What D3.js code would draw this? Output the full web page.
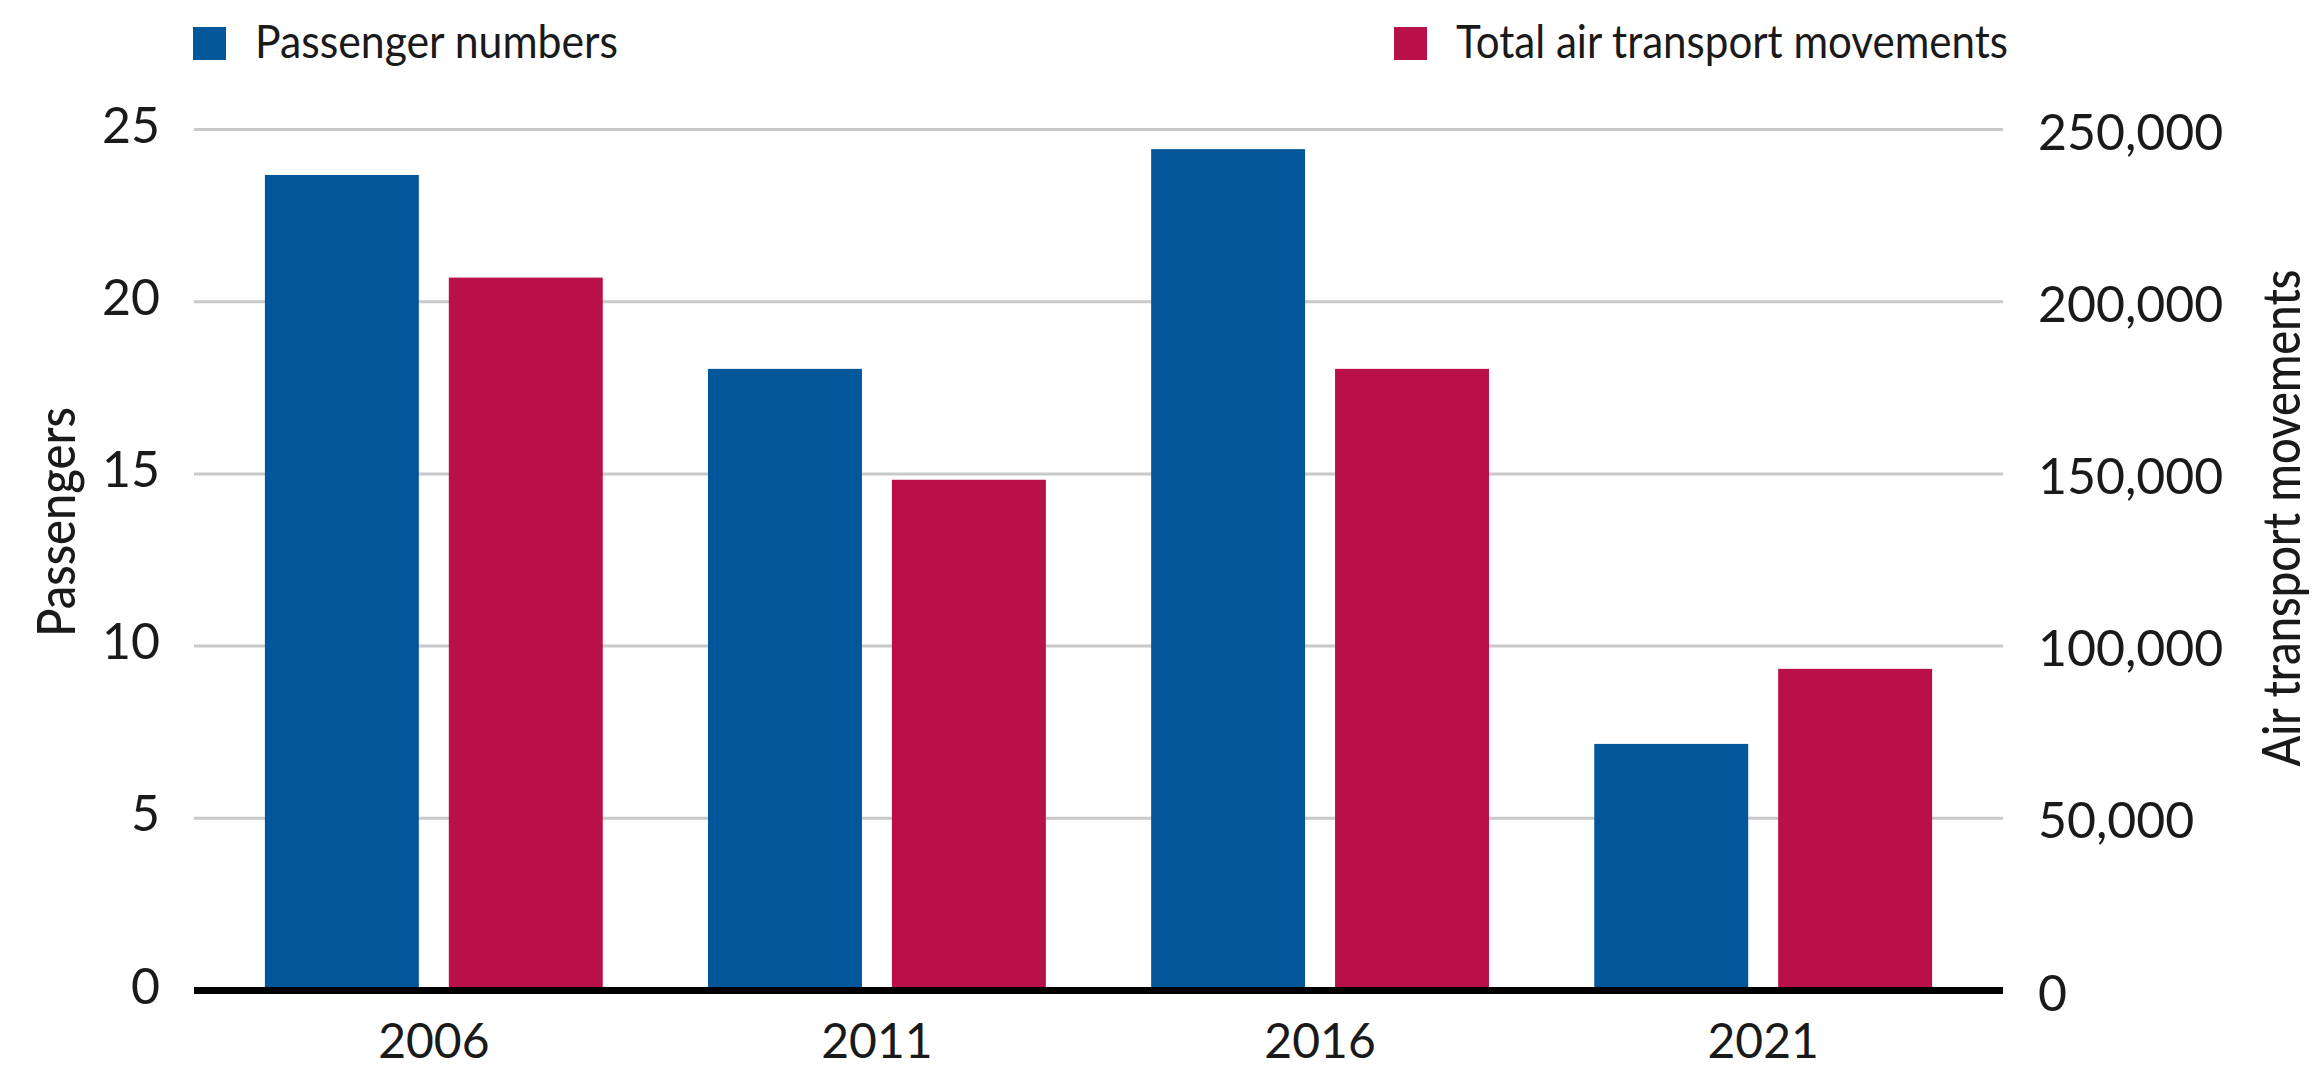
<!DOCTYPE html>
<html>
<head>
<meta charset="utf-8">
<script src="https://cdn.jsdelivr.net/npm/d3@7"></script>
<style>
  html, body { margin: 0; padding: 0; background: #ffffff; }
  svg { display: block; }
  text { font-family: Lato, "Open Sans", sans-serif; fill: #1a1a1a; }
</style>
</head>
<body>
<svg id="chart" width="2315" height="1070"></svg>
<script>
// ---- data ----
const years = ["2006", "2011", "2016", "2021"];
const passengers = [23.68, 18.05, 24.43, 7.16];          // millions
const movements = [207000, 148300, 180500, 93400];       // air transport movements
const leftTicks = [0, 5, 10, 15, 20, 25];
const rightTicks = [0, 50000, 100000, 150000, 200000, 250000];
const seriesNames = ["Passenger numbers", "Total air transport movements"];
const leftTitle = "Passengers";
const rightTitle = "Air transport movements";

// ---- layout ----
const W = 2315, H = 1070;
const plotL = 194, plotR = 2003, yTop = 129.5, yBot = 990.5;
const colors = ["#02579a", "#ba104a"];

const svg = d3.select("#chart");

const x0 = d3.scaleBand().domain(years).range([plotL, plotR])
  .paddingInner(0.2376).paddingOuter(0.16);
const x1 = d3.scaleBand().domain([0, 1]).range([0, x0.bandwidth()])
  .paddingInner(0.163).paddingOuter(0);
const yL = d3.scaleLinear().domain([0, 25]).range([yBot, yTop]);
const yR = d3.scaleLinear().domain([0, 250000]).range([yBot, yTop]);

// gridlines
svg.append("g").selectAll("line")
  .data(leftTicks.filter(d => d !== 0))
  .join("line")
  .attr("x1", plotL).attr("x2", plotR)
  .attr("y1", d => yL(d)).attr("y2", d => yL(d))
  .attr("stroke", "#c9c9c9").attr("stroke-width", 3);

// bars
const groups = svg.append("g").selectAll("g")
  .data(years.map((y, i) => ({ year: y, vals: [
    { s: 0, v: passengers[i], y: yL(passengers[i]) },
    { s: 1, v: movements[i], y: yR(movements[i]) }
  ]})))
  .join("g")
  .attr("transform", d => `translate(${x0(d.year)},0)`);

groups.selectAll("rect")
  .data(d => d.vals)
  .join("rect")
  .attr("x", d => x1(d.s))
  .attr("width", x1.bandwidth())
  .attr("y", d => d.y)
  .attr("height", d => yBot - d.y)
  .attr("fill", d => colors[d.s]);

// baseline
svg.append("line")
  .attr("x1", plotL).attr("x2", plotR)
  .attr("y1", yBot).attr("y2", yBot)
  .attr("stroke", "#000").attr("stroke-width", 7);

// left axis labels
svg.append("g").selectAll("text")
  .data(leftTicks).join("text")
  .attr("x", 160).attr("y", d => yL(d) + 13)
  .attr("text-anchor", "end")
  .attr("font-size", 50)
  .text(d => d);

// right axis labels
const fmt = d3.format(",");
svg.append("g").selectAll("text")
  .data(rightTicks).join("text")
  .attr("x", 2038).attr("y", d => yR(d) + 20)
  .attr("text-anchor", "start")
  .attr("font-size", 50)
  .text(d => fmt(d));

// x axis labels
svg.append("g").selectAll("text")
  .data(years).join("text")
  .attr("x", d => x0(d) + x0.bandwidth() / 2)
  .attr("y", 1058)
  .attr("text-anchor", "middle")
  .attr("font-size", 48)
  .text(d => d);

// axis titles
svg.append("text")
  .attr("transform", "translate(75,522) rotate(-90)")
  .attr("text-anchor", "middle")
  .attr("font-size", 52)
  .attr("font-weight", 500)
  .attr("textLength", 230).attr("lengthAdjust", "spacingAndGlyphs")
  .text(leftTitle);

svg.append("text")
  .attr("transform", "translate(2300,518) rotate(-90)")
  .attr("text-anchor", "middle")
  .attr("font-size", 52)
  .attr("font-weight", 500)
  .attr("textLength", 497).attr("lengthAdjust", "spacingAndGlyphs")
  .text(rightTitle);

// legend
const legendItems = [
  { name: seriesNames[0], color: colors[0], sx: 193, tx: 255, len: 363 },
  { name: seriesNames[1], color: colors[1], sx: 1394, tx: 1456, len: 552 }
];
const lg = svg.append("g").selectAll("g").data(legendItems).join("g");
lg.append("rect")
  .attr("x", d => d.sx).attr("y", 27)
  .attr("width", 33).attr("height", 33)
  .attr("fill", d => d.color);
lg.append("text")
  .attr("x", d => d.tx).attr("y", 58)
  .attr("font-size", 46)
  .attr("textLength", d => d.len).attr("lengthAdjust", "spacingAndGlyphs")
  .text(d => d.name);
</script>
</body>
</html>
